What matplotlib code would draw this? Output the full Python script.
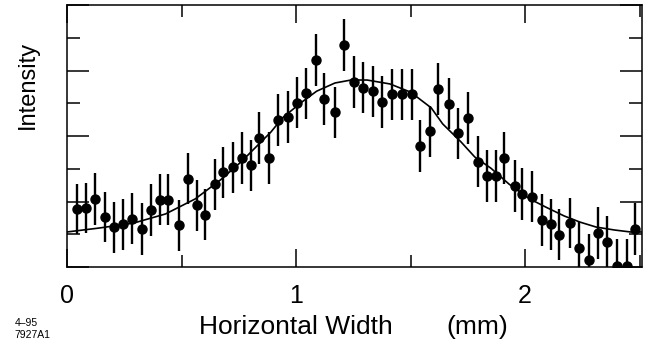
import matplotlib
matplotlib.use('Agg')
import matplotlib.pyplot as plt
from matplotlib.ticker import MultipleLocator

plt.rcParams['font.family'] = ['Liberation Sans', 'DejaVu Sans']

# data titik ukur (mm, intensitas dalam satuan sumbu)
lebar = [0.044, 0.083, 0.122, 0.166, 0.205, 0.245, 0.284, 0.328, 0.367, 0.406,
         0.441, 0.489, 0.528, 0.568, 0.603, 0.646, 0.681, 0.725, 0.764, 0.803,
         0.838, 0.882, 0.921, 0.965, 1.004, 1.044, 1.087, 1.122, 1.170, 1.210,
         1.253, 1.293, 1.336, 1.376, 1.419, 1.463, 1.507, 1.541, 1.585, 1.620,
         1.668, 1.707, 1.751, 1.795, 1.834, 1.873, 1.908, 1.956, 1.987, 2.031,
         2.074, 2.114, 2.148, 2.197, 2.236, 2.279, 2.319, 2.358, 2.402, 2.445,
         2.480]
intensitas = [1.77, 1.80, 2.08, 1.53, 1.22, 1.31, 1.47, 1.16, 1.74, 2.05,
              2.05, 1.28, 2.69, 1.89, 1.59, 2.53, 2.90, 3.05, 3.33, 3.11,
              3.94, 3.33, 4.49, 4.58, 5.01, 5.31, 6.32, 5.13, 4.73, 6.78,
              5.65, 5.47, 5.37, 5.04, 5.28, 5.28, 5.28, 3.69, 4.15, 5.44,
              4.98, 4.09, 4.55, 3.21, 2.78, 2.78, 3.33, 2.47, 2.23, 2.14,
              1.44, 1.31, 0.98, 1.34, 0.58, 0.21, 1.04, 0.76, 0.03, 0.03,
              1.16]
galat = [0.76, 0.76, 0.79, 0.76, 0.78, 0.78, 0.78, 0.78, 0.79, 0.78,
         0.78, 0.78, 0.78, 0.78, 0.78, 0.78, 0.78, 0.78, 0.78, 0.78,
         0.78, 0.78, 0.78, 0.78, 0.78, 0.78, 0.79, 0.78, 0.78, 0.80,
         0.78, 0.78, 0.78, 0.78, 0.78, 0.78, 0.78, 0.79, 0.78, 0.79,
         0.78, 0.78, 0.78, 0.78, 0.78, 0.78, 0.78, 0.79, 0.78, 0.78,
         0.79, 0.78, 0.78, 0.77, 0.78, 0.80, 0.79, 0.79, 0.82, 0.82,
         0.78]

# kurva fit
fit_x = [0.00, 0.14, 0.29, 0.43, 0.56, 0.67, 0.76, 0.82, 0.89, 0.94,
         1.02, 1.09, 1.17, 1.24, 1.31, 1.41, 1.50, 1.59, 1.64, 1.72,
         1.78, 1.85, 1.93, 2.02, 2.09, 2.17, 2.24, 2.31, 2.39, 2.46, 2.51]
fit_y = [1.07, 1.19, 1.34, 1.62, 2.08, 2.66, 3.21, 3.63, 4.12, 4.55,
         5.01, 5.37, 5.62, 5.71, 5.71, 5.59, 5.34, 4.86, 4.37, 3.82,
         3.36, 3.02, 2.53, 2.08, 1.83, 1.56, 1.37, 1.22, 1.13, 1.07, 1.07]

x_ticks = [0, 1, 2]

fig = plt.figure(figsize=(6.49, 3.47), dpi=100)
ax = fig.add_axes([0.1032, 0.2305, 0.886, 0.755])

ax.plot(fit_x, fit_y, color='black', linewidth=1.2)
ax.errorbar(lebar, intensitas, yerr=galat, fmt='o', color='black',
            markersize=6.5, elinewidth=1.7, capsize=0)

ax.set_xlim(0, 2.51)
ax.set_ylim(0, 8)
ax.set_xticks(x_ticks)
ax.set_xticklabels([str(t) for t in x_ticks], fontsize=18)
ax.xaxis.set_minor_locator(MultipleLocator(0.5))
ax.yaxis.set_major_locator(MultipleLocator(2))
ax.yaxis.set_minor_locator(MultipleLocator(1))
ax.set_yticklabels([])

# tick ke dalam di keempat sisi
ax.tick_params(axis='x', which='both', direction='in', top=True, bottom=True,
               width=1.1, pad=12)
ax.tick_params(axis='x', which='major', length=13)
ax.tick_params(axis='x', which='minor', length=8.6)
ax.tick_params(axis='y', which='both', direction='in', left=True, right=True,
               width=1.1, labelleft=False)
ax.tick_params(axis='y', which='major', length=16)
ax.tick_params(axis='y', which='minor', length=9.4)
for s in ax.spines.values():
    s.set_linewidth(1.1)

# label sumbu x (dua bagian, jarak lebar di tengah)
fig.text(0.3066, 0.057, 'Horizontal Width', fontsize=19,
         ha='left', va='center')
fig.text(0.688, 0.057, '(mm)', fontsize=19, ha='left', va='center')
fig.text(0.043, 0.755, 'Intensity', fontsize=17, rotation=90,
         ha='center', va='center')
fig.text(0.022, 0.052, '4\u201395\n7927A1', fontsize=7.5,
         ha='left', va='center', linespacing=1.3)

fig.savefig('out.png', dpi=100)
